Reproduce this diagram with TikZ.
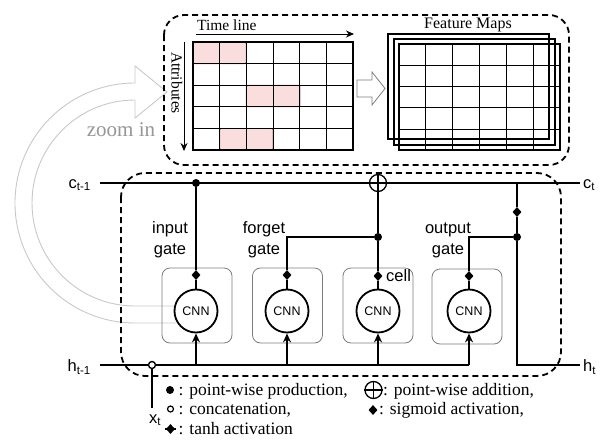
\documentclass[tikz,border=0pt]{standalone}
\usepackage{fontspec}
\setmainfont{Liberation Serif}
\setsansfont{Liberation Sans}
\usetikzlibrary{arrows.meta,positioning,shapes.geometric}
\definecolor{zoomgray}{RGB}{200,200,200}
\definecolor{zoomtext}{RGB}{150,150,150}
\definecolor{boxgray}{RGB}{125,125,125}
\definecolor{hlfill}{RGB}{250,222,222}
\definecolor{hldraw}{RGB}{190,110,110}

\begin{document}
\begin{tikzpicture}[x=1pt,y=-1pt,
  wire/.style={line width=1.8pt},
  feed/.style={line width=1.8pt,-{Stealth[length=9pt,width=8pt]}},
  axisarrow/.style={line width=1pt,-{Stealth[length=8pt,width=7pt]}},
  cnn/.style={circle,draw,line width=1.8pt,fill=white,minimum size=43pt,inner sep=0pt,
    font=\sffamily\fontsize{12.5}{14}\selectfont},
  unit/.style={draw=boxgray,line width=0.8pt,rounded corners=8pt,
    minimum width=70pt,minimum height=75pt},
  dot/.style={circle,fill,minimum size=8pt,inner sep=0pt},
  sig/.style={diamond,fill,minimum width=9pt,minimum height=10pt,inner sep=0pt},
  concat/.style={circle,draw,fill=white,line width=1.4pt,minimum size=7pt,inner sep=0pt},
  oplus/.style={circle,draw,fill=white,line width=1.3pt,minimum size=17pt,inner sep=0pt},
  gatelbl/.style={font=\sffamily\fontsize{16.5}{21}\selectfont,align=center,inner sep=0pt},
  statelbl/.style={font=\sffamily\fontsize{16.5}{18}\selectfont,inner sep=0pt},
  legend/.style={font=\fontsize{17.5}{20}\selectfont,anchor=base west,inner sep=0pt},
  region/.style={draw,line width=1.8pt,dash pattern=on 6pt off 4pt},
  hl/.style={fill=hlfill,draw=hldraw,line width=0.8pt,rounded corners=1.5pt},
  map/.style={draw,line width=1.8pt}
]
  \useasboundingbox (0,0) rectangle (603,442);

  % zoom-in band
  \draw[zoomgray,line width=0.9pt]
    (174,306) -- (135,306) arc[start angle=90,end angle=270,radius=103]
    -- (135,118) -- (167,92) -- (135,66) -- (135,83)
    arc[start angle=270,end angle=90,radius=120] -- (176,323);
  \node[font=\fontsize{21}{24}\selectfont,text=zoomtext,anchor=base] (zoom) at (121,136) {zoom in};

  % input matrix
  \draw[hl] (193,42) rectangle (246.3,63.6);
  \draw[hl] (246.3,85.2) rectangle (300,106.8);
  \draw[hl] (219.7,128.4) rectangle (273,150);
  \foreach \i in {1,...,5}
    \draw[line width=0.9pt] ({193+26.67*\i},42) -- ++(0,108);
  \foreach \j in {1,...,4}
    \draw[line width=0.9pt] (193,{42+21.6*\j}) -- ++(160,0);
  \draw[map] (193,42) rectangle (353,150);

  \coordinate (t0) at (196,34);
  \coordinate (t1) at (354,34);
  \draw[axisarrow] (t0) -- (t1);
  \node[font=\fontsize{15.5}{18}\selectfont,anchor=base west,inner sep=0pt] (time) at (197,30) {Time line};
  \coordinate (a0) at (184,42);
  \coordinate (a1) at (184,151);
  \draw[axisarrow] (a0) -- (a1);
  \node[font=\fontsize{15.5}{18}\selectfont,rotate=-90,inner sep=0pt] (attr) at (177,83) {Attributes};

  % conv arrow
  \draw[draw=boxgray,line width=0.8pt,fill=white]
    (357,80) -- (372,80) -- (372,72) -- (385,88.5) -- (372,105) -- (372,97) -- (357,97) -- cycle;

  % feature maps
  \draw[map] (388,34) rectangle (549,139);
  \draw[map] (394,39) rectangle (555,145);
  \foreach \i in {1,...,5}
    \draw[line width=0.9pt] ({399+26.83*\i},44) -- ++(0,106);
  \foreach \j in {1,...,4}
    \draw[line width=0.9pt] (399,{44+21.3*\j}) -- ++(161,0);
  \draw[map] (399,44) rectangle (560,150);
  \node[font=\fontsize{16}{18}\selectfont,anchor=base] (fmaps) at (468,28) {Feature Maps};

  \draw[region,rounded corners=20pt] (164,15) rectangle (569,165);
  \draw[region,rounded corners=24pt] (121,173) rectangle (561,376);

  % gate units
  \node[unit] (inbox) at (197,305.5) {};
  \node[unit] (fgbox) at (287.5,305.5) {};
  \node[unit] (cellbox) at (378,305.5) {};
  \node[unit] (outbox) at (467,306.5) {};
  \node[cnn] (ingate) at (196,311) {CNN};
  \node[cnn] (forget) at (287,311) {CNN};
  \node[cnn] (cell) at (378,311) {CNN};
  \node[cnn] (outgate) at (469,311) {CNN};

  \coordinate (cin) at (100,183);
  \coordinate (cout) at (580,183);
  \coordinate (hin) at (100,365);
  \coordinate (hout) at (580,365);
  \coordinate (tap) at (517,183);
  \coordinate (hturn) at (517,365);
  \coordinate (xin) at (152,408);

  \node[dot] (inmul) at (196,183) {};
  \node[oplus] (add) at (378,183) {};
  \node[dot] (fgmul) at (378,237) {};
  \node[dot] (outmul) at (517,237) {};
  \node[sig] (insig) at (196,275) {};
  \node[sig] (fgsig) at (287,275) {};
  \node[sig] (cellsig) at (378,276) {};
  \node[sig] (outsig) at (469,276) {};
  \node[sig] (tanh) at (517,212) {};
  \node[concat] (cat) at (152,365) {};

  % cell state
  \draw[wire] (cin) -- (add) -- (cout);
  \draw[line width=1.3pt] (add.north) -- (add.south) (add.west) -- (add.east);
  \draw[wire] (inmul) -- (insig) -- (ingate);
  \draw[wire] (forget) -- (fgsig) |- (fgmul);
  \draw[wire] (add) -- (fgmul) -- (cellsig) -- (cell);
  \draw[wire] (outgate) -- (outsig) |- (outmul);
  \draw[wire] (tap) -- (tanh) -- (outmul) -- (hturn) -- (hout);

  % hidden state and input
  \draw[wire] (hin) -- (cat) -- (outgate |- hin);
  \draw[wire] (xin) -- (cat);
  \draw[feed] (ingate |- hin) -- (ingate);
  \draw[feed] (forget |- hin) -- (forget);
  \draw[feed] (cell |- hin) -- (cell);
  \draw[feed] (outgate |- hin) -- (outgate);

  % labels
  \node[statelbl,left=9pt of cin,yshift=-2pt] (cprev) {c\textsubscript{t-1}};
  \node[statelbl,right=3pt of cout,yshift=-2pt] (cnext) {c\textsubscript{t}};
  \node[statelbl,left=9pt of hin,yshift=-2pt] (hprev) {h\textsubscript{t-1}};
  \node[statelbl,right=3pt of hout,yshift=-2pt] (hnext) {h\textsubscript{t}};
  \node[statelbl,anchor=base] (xt) at (155,423) {x\textsubscript{t}};
  \node[gatelbl] (inlbl) at (170,240) {input\\gate};
  \node[gatelbl] (fglbl) at (264,240) {forget\\gate};
  \node[gatelbl] (outlbl) at (448,240) {output\\gate};
  \node[gatelbl,anchor=west] (celllbl) at (386,276) {cell};

  % legend
  \node[dot] (key1) at (170,390) {};
  \node[legend] (txt1) at (178.5,395) {: point-wise production,};
  \node[oplus] (key2) at (373.5,390) {};
  \draw[line width=1.3pt] (key2.north) -- (key2.south) (key2.west) -- (key2.east);
  \node[legend] (txt2) at (383,395) {: point-wise addition,};
  \node[concat,minimum size=6pt,line width=1.2pt] (key3) at (170.5,409) {};
  \node[legend] (txt3) at (178.5,414) {: concatenation,};
  \node[sig] (key4) at (373,410) {};
  \node[legend] (txt4) at (379,414) {: sigmoid activation,};
  \coordinate (k5a) at (165,429);
  \coordinate (k5b) at (176,429);
  \draw[line width=1.4pt] (k5a) -- (k5b);
  \node[sig] (key5) at (170.5,429) {};
  \node[legend] (txt5) at (178.5,434) {: tanh activation};
\end{tikzpicture}
\end{document}
